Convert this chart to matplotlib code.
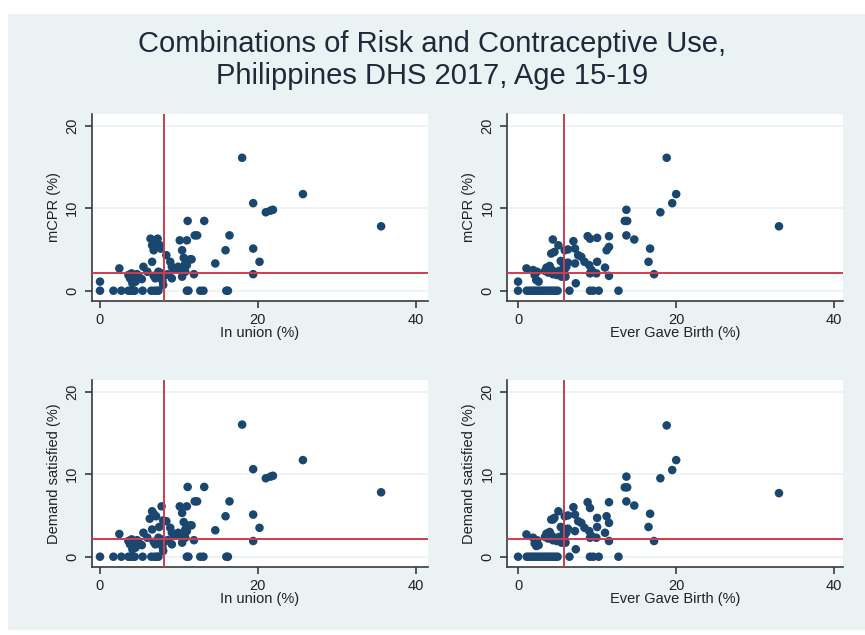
import matplotlib
matplotlib.use("Agg")
import matplotlib.pyplot as plt
from matplotlib import font_manager
from matplotlib.patches import Rectangle

names = {f.name for f in font_manager.fontManager.ttflist}
FAM = ['Liberation Sans Narrow', 'Liberation Sans', 'DejaVu Sans']
FAM = [f for f in FAM if f in names] + ['DejaVu Sans']
plt.rcParams['font.family'] = FAM

title = "Combinations of Risk and Contraceptive Use,\nPhilippines DHS 2017, Age 15-19"

# Panel A: In union (%) vs mCPR (%)
union_x = [0, 0, 1.7, 2.7, 3.6, 3.9, 4.2, 4.4, 5.4, 6.5, 6.9, 7.2, 7.4, 11.0, 11.2, 12.7, 13.1, 16.0, 16.2,
           2.45, 3.6, 3.8, 4.0, 4.2, 4.4, 4.1, 4.5, 3.9, 4.7, 5.3, 5.0,
           5.5, 6.6, 6.0, 6.8, 7.4, 7.0, 7.8, 7.9, 8.0, 7.8, 9.1, 8.3, 8.6,
           6.4, 7.3, 6.6, 7.6, 6.8, 7.7, 7.0,
           8.4, 8.9, 9.1, 9.9, 9.4,
           10.1, 11.0, 10.4, 10.6, 11.4, 11.6,
           10.8, 11.0, 10.6, 10.8, 10.4, 11.9, 10.2,
           11.1, 13.2, 12.0, 12.3, 14.6, 15.9, 16.4,
           19.4, 19.4, 20.2, 19.4, 21.0, 21.6, 21.9,
           18.0, 25.7, 35.6]
union_mcpr = [0, 1.1, 0, 0, 0, 0, 0, 0, 0, 0, 0, 0, 0, 0, 0, 0, 0, 0, 0,
              2.7, 1.9, 1.5, 2.1, 1.3, 1.8, 0.9, 1.1, 1.6, 2.0, 1.4, 1.6,
              2.9, 3.5, 2.3, 1.8, 2.3, 1.5, 2.1, 1.2, 0.7, 1.6, 1.5, 1.9, 2.0,
              6.3, 6.3, 5.5, 5.5, 4.9, 5.1, 6.1,
              4.3, 3.5, 2.9, 2.9, 2.6,
              6.1, 6.1, 4.9, 4.0, 3.8, 3.8,
              3.3, 3.1, 2.7, 2.3, 1.7, 2.0, 2.5,
              8.45, 8.45, 6.7, 6.7, 3.3, 4.9, 6.7,
              10.6, 5.1, 3.5, 2.0, 9.5, 9.7, 9.8,
              16.1, 11.7, 7.8]

# Panel B: Ever gave birth (%) vs mCPR (%)
birth_x = [0, 0, 1.1, 1.4, 1.7, 2.0, 2.3, 2.6, 2.9, 3.2, 3.5, 3.8, 4.1, 4.4, 4.7, 5.0, 6.5, 9.1, 9.5, 10.2, 12.7,
           1.06, 1.9, 2.1, 2.3, 2.6, 2.4,
           3.4, 3.6, 3.8, 4.0, 4.2, 4.4, 4.6, 4.9, 5.2, 5.5, 5.6, 5.8, 5.9, 6.1, 6.3, 5.7, 5.4, 6.0,
           4.4, 5.1, 4.2, 4.6, 5.9, 6.3,
           7.0, 7.2, 7.6, 8.0, 7.2, 7.3,
           8.8, 9.1, 10.0, 8.4, 9.0, 9.3, 9.1, 10.0, 9.9, 11.0, 11.2, 11.5, 11.5, 11.5,
           13.7, 13.5, 13.8, 13.7, 14.7, 16.7, 16.5, 17.2, 18.0, 19.5, 20.0, 18.8, 33.0]
birth_mcpr = [0, 1.1, 0, 0, 0, 0, 0, 0, 0, 0, 0, 0, 0, 0, 0, 0, 0, 0, 0, 0, 0,
              2.7, 2.5, 1.9, 1.3, 1.1, 2.3,
              2.4, 2.8, 2.2, 3.0, 2.6, 2.0, 2.3, 1.9, 2.4, 1.7, 3.5, 3.1, 2.6, 2.9, 3.4, 1.9, 3.6, 1.7,
              6.2, 5.5, 4.5, 4.7, 4.9, 5.0,
              6.0, 5.1, 4.3, 4.1, 3.3, 0.9,
              6.6, 6.3, 6.4, 3.5, 3.1, 2.5, 2.1, 3.5, 2.1, 2.8, 4.9, 5.3, 6.6, 1.8,
              9.8, 8.45, 8.45, 6.7, 6.2, 5.1, 3.5, 2.0, 9.5, 10.6, 11.7, 16.1, 7.8]

# Panel C: In union (%) vs Demand satisfied (%)
union_x2 = [0, 1.7, 2.7, 3.6, 3.9, 4.2, 4.4, 5.4, 6.5, 6.9, 7.2, 7.4, 11.0, 11.2, 12.7, 13.1, 16.0, 16.2,
            2.45, 3.6, 3.8, 4.0, 4.2, 4.4, 4.1, 4.5, 3.9, 4.7, 5.3, 5.0,
            5.5, 6.6, 6.0, 6.8, 7.4, 7.0, 7.8, 7.9, 8.0, 7.8, 9.1, 8.3, 8.6,
            7.8, 6.6, 6.8, 6.3, 7.1, 8.0, 7.5,
            8.4, 8.9, 9.1, 9.9, 9.4,
            10.1, 11.0, 10.4, 10.6, 11.4, 11.6,
            10.8, 11.0, 10.6, 10.8, 10.4, 11.9, 10.2,
            11.1, 13.2, 12.0, 12.3, 14.6, 15.9, 16.4,
            19.4, 19.4, 20.2, 19.4, 21.0, 21.6, 21.9,
            18.0, 25.7, 35.6]
union_dem = [0, 0, 0, 0, 0, 0, 0, 0, 0, 0, 0, 0, 0, 0, 0, 0, 0, 0,
             2.75, 1.9, 1.5, 2.1, 1.3, 1.8, 0.9, 1.1, 1.6, 2.0, 1.4, 1.6,
             2.9, 3.3, 2.3, 1.8, 2.3, 1.5, 2.1, 1.2, 0.7, 1.6, 1.5, 1.9, 2.0,
             6.1, 5.5, 5.2, 4.6, 4.9, 4.4, 3.6,
             4.3, 3.5, 2.9, 2.9, 2.6,
             6.1, 6.1, 5.3, 4.2, 3.8, 3.8,
             3.3, 3.1, 2.7, 2.3, 1.7, 2.0, 2.5,
             8.45, 8.45, 6.7, 6.7, 3.2, 4.9, 6.7,
             10.6, 5.1, 3.5, 1.9, 9.5, 9.7, 9.8,
             16.0, 11.7, 7.8]

# Panel D: Ever gave birth (%) vs Demand satisfied (%)
birth_x2 = [0, 1.1, 1.4, 1.7, 2.0, 2.3, 2.6, 2.9, 3.2, 3.5, 3.8, 4.1, 4.4, 4.7, 5.0, 6.5, 9.1, 9.5, 10.2, 12.7,
            1.06, 1.9, 2.1, 2.3, 2.6, 2.4,
            3.4, 3.6, 3.8, 4.0, 4.2, 4.4, 4.6, 4.9, 5.2, 5.5, 5.6, 5.8, 5.9, 6.1, 6.3, 5.7, 5.4, 6.0,
            4.4, 5.1, 4.2, 4.6, 5.9, 6.3,
            7.0, 7.2, 7.6, 8.0, 7.2, 7.3,
            8.8, 9.1, 10.0, 8.4, 9.0, 9.3, 9.1, 10.0, 9.9, 11.0, 11.2, 11.5, 11.5, 11.5,
            13.7, 13.5, 13.8, 13.7, 14.7, 16.7, 16.5, 17.2, 18.0, 19.5, 20.0, 18.8, 33.0]
birth_dem = [0, 0, 0, 0, 0, 0, 0, 0, 0, 0, 0, 0, 0, 0, 0, 0, 0, 0, 0, 0,
             2.7, 2.3, 1.6, 1.3, 1.4, 2.0,
             2.4, 2.8, 2.2, 3.0, 2.6, 2.0, 2.3, 1.9, 2.4, 1.7, 3.5, 3.1, 2.6, 2.9, 3.4, 1.9, 3.6, 1.7,
             4.5, 5.5, 4.5, 4.7, 4.9, 5.0,
             6.0, 5.1, 4.3, 4.1, 3.1, 0.9,
             6.6, 5.9, 4.7, 3.5, 3.1, 2.5, 2.3, 3.6, 2.3, 2.9, 4.9, 6.6, 4.1, 1.9,
             9.7, 8.4, 8.4, 6.7, 6.2, 5.2, 3.6, 1.9, 9.5, 10.5, 11.7, 15.9, 7.7]

ref_x_union = 8.1
ref_x_birth = 5.8
ref_y = 2.1

xticks = [0, 20, 40]
yticks = [0, 10, 20]

BG = '#EAF2F3'
NAVY = '#1a476f'
RED = '#d03c50'

fig = plt.figure(figsize=(8.65, 6.35), dpi=100, facecolor='white')
fig.patches.append(Rectangle((8/865, 5/635), 1 - 8/865, 1 - 19/635, transform=fig.transFigure,
                             facecolor=BG, edgecolor='none', zorder=-10))

fig.text(0.5, 1 - 60/635, title, ha='center', va='center', fontsize=21,
         color='#1e2a3a', linespacing=1.15)

W = 336/865
H = 0.294
panels = [
    (91.7/865, 1 - 300.7/635, union_x, union_mcpr, ref_x_union, 'In union (%)', 'mCPR (%)', (-1.05, 41.5)),
    (507/865, 1 - 300.7/635, birth_x, birth_mcpr, ref_x_birth, 'Ever Gave Birth (%)', 'mCPR (%)', (-1.4, 41.1)),
    (91.7/865, 1 - 566.7/635, union_x2, union_dem, ref_x_union, 'In union (%)', 'Demand satisfied (%)', (-1.05, 41.5)),
    (507/865, 1 - 566.7/635, birth_x2, birth_dem, ref_x_birth, 'Ever Gave Birth (%)', 'Demand satisfied (%)', (-1.4, 41.1)),
]

for left, bottom, xs, ys, rx, xl, yl, xlim in panels:
    ax = fig.add_axes([left, bottom, W, H])
    ax.set_facecolor('white')
    ax.set_xlim(*xlim)
    ax.set_ylim(-1.21, 21.4)
    for yv in yticks:
        ax.axhline(yv, color=BG, lw=1.2, zorder=0)
    ax.scatter(xs, ys, s=38, color=NAVY, edgecolors='none', zorder=3)
    ax.axvline(rx, color=RED, lw=1.4, zorder=4)
    ax.axhline(ref_y, color=RED, lw=1.4, zorder=4)
    for s in ['top', 'right']:
        ax.spines[s].set_visible(False)
    for s in ['left', 'bottom']:
        ax.spines[s].set_color('#3a3a3a')
        ax.spines[s].set_linewidth(1.2)
    ax.set_xticks(xticks)
    ax.set_yticks(yticks)
    ax.tick_params(axis='both', direction='out', length=5, width=1.2, color='#3a3a3a',
                   labelsize=10.5, labelcolor='#222222')
    ax.tick_params(axis='x', pad=4)
    ax.tick_params(axis='y', pad=4)
    for lab in ax.get_yticklabels():
        lab.set_rotation(90)
        lab.set_va('center')
    ax.set_xlabel(xl, fontsize=10.5, color='#222222', labelpad=-1)
    ax.set_ylabel(yl, fontsize=10.5, color='#222222', labelpad=3)

fig.savefig('out.png', dpi=100, facecolor='white')
